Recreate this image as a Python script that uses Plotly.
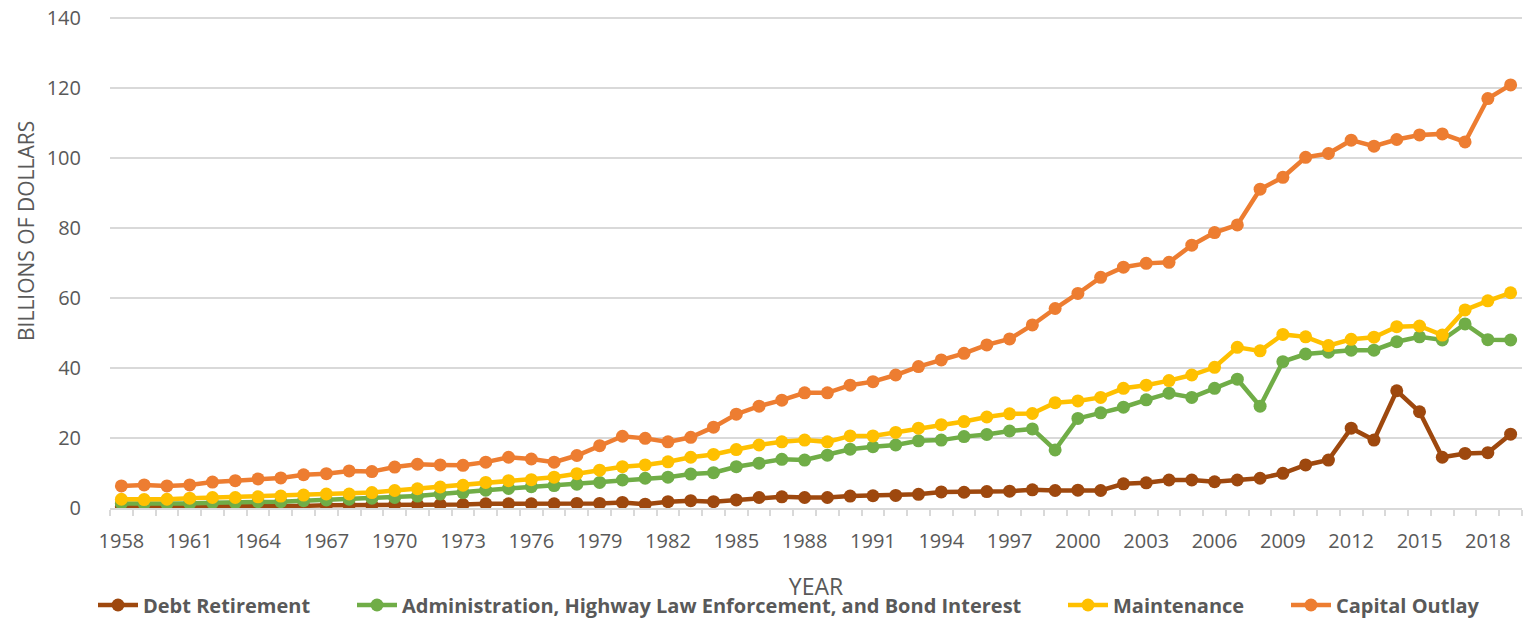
import plotly.graph_objects as go

years = [1958, 1959, 1960, 1961, 1962, 1963, 1964, 1965, 1966, 1967,
         1968, 1969, 1970, 1971, 1972, 1973, 1974, 1975, 1976, 1977,
         1978, 1979, 1980, 1981, 1982, 1983, 1984, 1985, 1986, 1987,
         1988, 1989, 1990, 1991, 1992, 1993, 1994, 1995, 1996, 1997,
         1998, 1999, 2000, 2001, 2002, 2003, 2004, 2005, 2006, 2007,
         2008, 2009, 2010, 2011, 2012, 2013, 2014, 2015, 2016, 2017,
         2018, 2019]

debt_retirement = [0.4, 0.4, 0.4, 0.5, 0.5, 0.5, 0.6, 0.6, 0.6, 0.8,
                   0.8, 0.8, 1.0, 1.0, 1.0, 1.0, 1.2, 1.2, 1.2, 1.2,
                   1.3, 1.3, 1.6, 1.1, 1.8, 2.1, 1.8, 2.3, 3.0, 3.2,
                   3.0, 3.0, 3.4, 3.5, 3.6, 3.9, 4.6, 4.5, 4.7, 4.8,
                   5.2, 5.0, 5.1, 5.0, 6.9, 7.2, 8.0, 8.0, 7.5, 8.0,
                   8.5, 9.9, 12.3, 13.7, 22.8, 19.4, 33.5, 27.5, 14.5, 15.6,
                   15.8, 21.1]

administration = [1.3, 1.2, 1.2, 1.3, 1.5, 1.5, 1.8, 1.8, 2.1, 2.3,
                  2.5, 2.8, 3.0, 3.4, 4.0, 4.4, 5.1, 5.6, 6.1, 6.4,
                  6.8, 7.3, 8.0, 8.5, 8.8, 9.7, 10.1, 11.8, 12.8, 13.9,
                  13.7, 15.1, 16.8, 17.5, 18.0, 19.2, 19.4, 20.4, 21.0, 22.0,
                  22.6, 16.6, 25.6, 27.2, 28.8, 30.9, 32.8, 31.6, 34.2, 36.8,
                  29.1, 41.8, 44.0, 44.5, 45.1, 45.1, 47.5, 48.9, 48.0, 52.6,
                  48.1, 48.0]

maintenance = [2.5, 2.4, 2.5, 2.8, 3.0, 3.0, 3.2, 3.4, 3.7, 4.0,
               4.0, 4.4, 5.0, 5.5, 6.0, 6.5, 7.3, 7.8, 8.1, 8.8,
               9.8, 10.8, 11.8, 12.3, 13.2, 14.5, 15.3, 16.7, 18.0, 18.9,
               19.4, 18.9, 20.6, 20.6, 21.6, 22.8, 23.8, 24.7, 26.0, 26.9,
               27.0, 30.1, 30.6, 31.6, 34.2, 35.1, 36.4, 38.0, 40.2, 45.9,
               44.9, 49.6, 48.9, 46.4, 48.2, 48.8, 51.8, 52.0, 49.4, 56.6,
               59.2, 61.5]

capital_outlay = [6.3, 6.6, 6.3, 6.6, 7.4, 7.8, 8.3, 8.6, 9.5, 9.8,
                  10.6, 10.4, 11.7, 12.5, 12.3, 12.2, 13.1, 14.5, 14.0, 13.1,
                  15.0, 17.8, 20.5, 19.9, 18.9, 20.2, 23.1, 26.8, 29.1, 30.8,
                  32.9, 32.9, 35.1, 36.1, 38.0, 40.4, 42.3, 44.2, 46.6, 48.3,
                  52.3, 57.0, 61.3, 65.9, 68.8, 69.9, 70.2, 75.1, 78.7, 80.9,
                  91.1, 94.5, 100.2, 101.3, 105.1, 103.4, 105.3, 106.6, 106.9, 104.6,
                  117.0, 120.9]

y_ticks = [0, 20, 40, 60, 80, 100, 120, 140]

series_names = ["Debt Retirement",
                "Administration, Highway Law Enforcement, and Bond Interest",
                "Maintenance",
                "Capital Outlay"]
series_values = [debt_retirement, administration, maintenance, capital_outlay]
series_colors = ["#9E480E", "#70AD47", "#FFC000", "#ED7D31"]
legend_ids = ["legend", "legend2", "legend3", "legend4"]

# The page body has an 8px margin, so the figure is drawn 8px in from the
# window's top-left corner; the layout below is expressed in window pixels
# and shifted by that offset.
OFF = 8
W, H = 1532 - OFF, 621 - OFF
PL, PT = 110 - OFF, 17 - OFF
PR = W - (1522 - OFF)
PB = H - (508 - OFF)
plot_w = W - PL - PR
plot_h = H - PT - PB

legend_text_px = [143, 402, 1113, 1336]   # window x where each legend label starts
legend_center_py = 605                    # window y of legend row
ytitle_center = (26, 231)                 # window x, y of the rotated y title

fig = go.Figure()
for name, vals, col, lid in zip(series_names, series_values, series_colors, legend_ids):
    fig.add_trace(go.Scatter(
        x=years, y=vals, name=name, mode="lines+markers",
        line=dict(color=col, width=4.5),
        marker=dict(color=col, size=13),
        legend=lid,
    ))

font_family = "Open Sans, DejaVu Sans, sans-serif"
legend_common = dict(orientation="h", yanchor="middle", xanchor="left",
                     y=(H - PB - (legend_center_py - OFF)) / plot_h,
                     font=dict(size=20, color="#595959", family=font_family, weight="bold"),
                     itemwidth=40, bgcolor="rgba(0,0,0,0)", borderwidth=0)
layout_legends = {}
for lid, tx in zip(legend_ids, legend_text_px):
    d = dict(legend_common)
    d["x"] = (tx - OFF - 50 - PL) / plot_w
    layout_legends[lid] = d

fig.update_layout(
    width=W, height=H,
    margin=dict(l=PL, r=PR, t=PT, b=PB, autoexpand=False),
    paper_bgcolor="white", plot_bgcolor="white",
    font=dict(family=font_family, size=20, color="#595959"),
    showlegend=True,
    xaxis=dict(
        range=[1957.5, 2019.5],
        tick0=1958, dtick=3, tickmode="linear",
        ticks="", showgrid=False, zeroline=False,
        showline=True, linecolor="#d9d9d9", linewidth=1.5,
        tickfont=dict(size=20, color="#595959"),
        ticklabelstandoff=14,
        minor=dict(ticks="outside", tick0=1957.5, dtick=1, ticklen=6,
                   tickcolor="#d9d9d9", tickwidth=1.5, showgrid=False),
        title=dict(text="YEAR", font=dict(size=23, color="#595959"), standoff=26),
    ),
    yaxis=dict(
        range=[0, 140.3],
        tickmode="array", tickvals=y_ticks, ticktext=[str(v) for v in y_ticks],
        showgrid=True, gridcolor="#d9d9d9", gridwidth=1.5,
        zeroline=False, showline=False, ticks="",
        tickfont=dict(size=20, color="#595959"),
        ticklabelstandoff=28, ticklabeloverflow="allow",
    ),
    annotations=[dict(
        text="BILLIONS OF DOLLARS", textangle=-90, showarrow=False,
        xref="paper", yref="paper",
        x=(ytitle_center[0] - OFF - PL) / plot_w,
        y=(H - PB - (ytitle_center[1] - OFF)) / plot_h,
        xanchor="center", yanchor="middle",
        font=dict(size=21, color="#595959", family=font_family),
    )],
    **layout_legends,
)

fig.write_html("out.html")
